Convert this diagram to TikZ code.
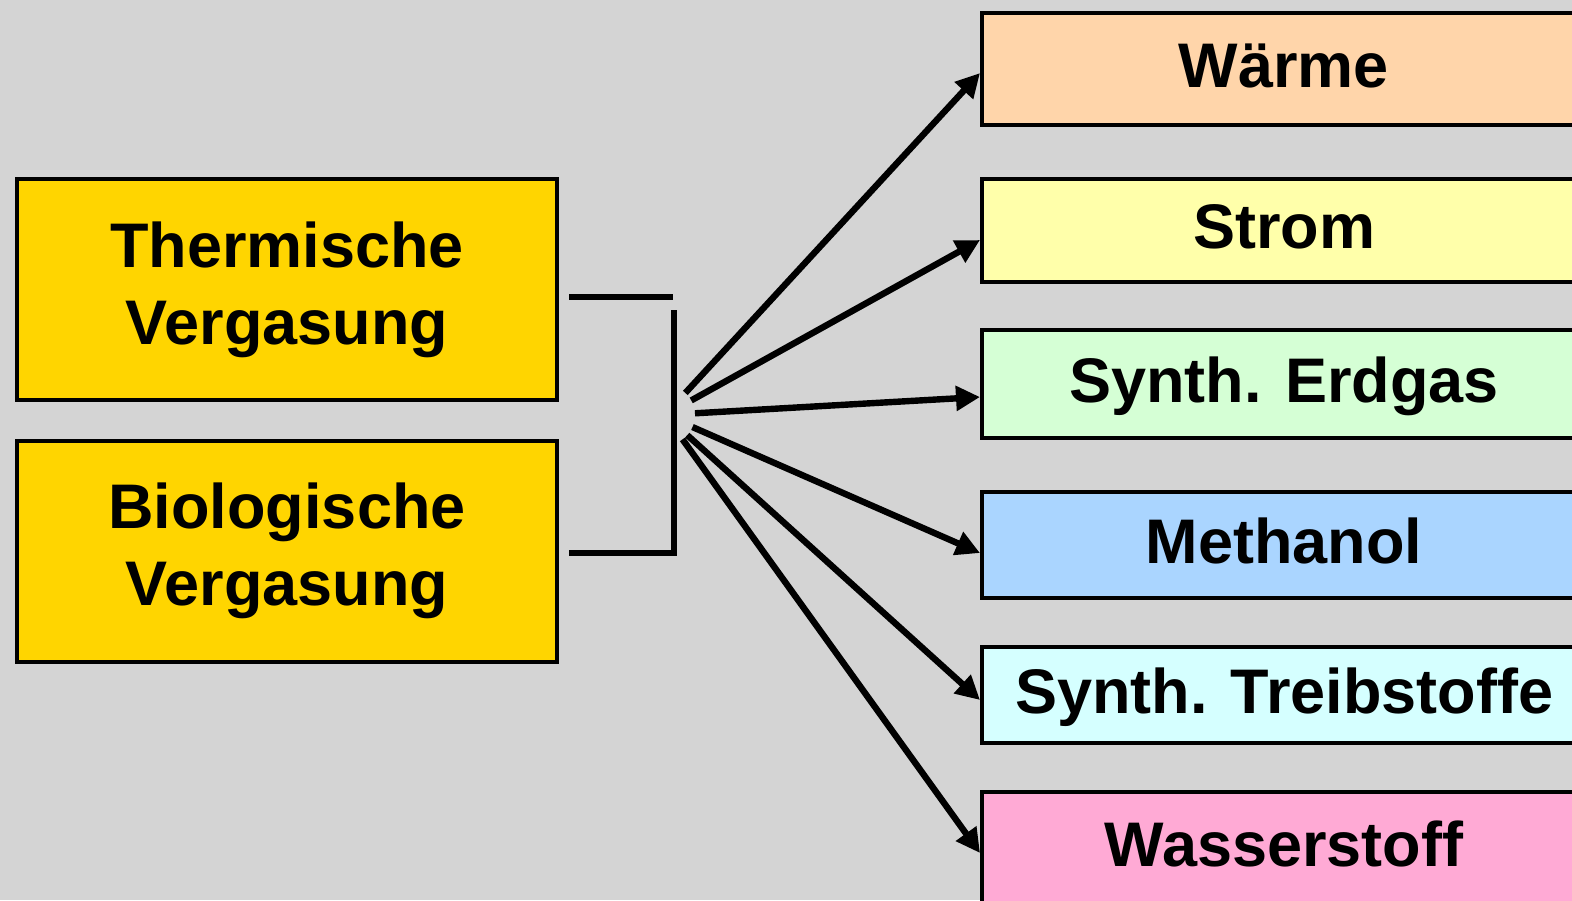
\documentclass[tikz,border=0pt]{standalone}
\usepackage{fontspec}
\setmainfont{Liberation Sans}
\usetikzlibrary{arrows.meta}
\definecolor{bgGrey}{HTML}{D4D4D4}
\definecolor{cGold}{HTML}{FFD500}
\definecolor{cWaerme}{HTML}{FFD5AA}
\definecolor{cStrom}{HTML}{FFFFAA}
\definecolor{cErdgas}{HTML}{D5FFD5}
\definecolor{cMethanol}{HTML}{AAD5FF}
\definecolor{cTreib}{HTML}{D5FFFF}
\definecolor{cWasser}{HTML}{FFAAD5}
\begin{document}
\begin{tikzpicture}[x=0.5pt,y=-0.5pt,
  srcbox/.style={draw,line width=2pt,fill=cGold,align=center,inner sep=0pt,
    minimum width=270pt,minimum height=110.5pt,
    font=\fontsize{31.5}{38.5}\selectfont\bfseries},
  outbox/.style={draw,line width=2pt,inner sep=0pt,minimum width=302pt,
    text height=23.6pt,text depth=5.5pt,
    font=\fontsize{31.5}{38.5}\selectfont\bfseries},
  brk/.style={line width=3.4pt},
  arr/.style={line width=3.2pt,-{Triangle[length=12pt,width=12pt]},shorten <=15pt}]
\useasboundingbox (0,0) rectangle (1572,900);
\fill[bgGrey] (0,0) rectangle (1572,900);
% sources
\node[srcbox] (therm) at (287,289.5) {Thermische\\Vergasung};
\node[srcbox] (bio) at (287,551) {Biologische\\Vergasung};
% products
\node[outbox,fill=cWaerme,minimum height=56pt] (waerme) at (1284,69) {Wärme};
\node[outbox,fill=cStrom,minimum height=51.5pt] (strom) at (1284,230.5) {Strom};
\node[outbox,fill=cErdgas,minimum height=54pt] (erdgas) at (1284,384) {Synth. Erdgas};
\node[outbox,fill=cMethanol,minimum height=53pt] (methanol) at (1284,545) {Methanol};
\node[outbox,fill=cTreib,minimum height=48pt] (treib) at (1284,695) {Synth. Treibstoffe};
\node[outbox,fill=cWasser,minimum height=56pt] (wasser) at (1284,848) {Wasserstoff};
% bracket
\coordinate (brkTop) at (673,297);
\coordinate (brkUp) at (674,310);
\coordinate (brkDown) at (674,553);
\coordinate (hub) at (665,415);
\draw[brk] ([xshift=5pt,yshift=-3.75pt]therm.east) -- (brkTop);
\draw[brk] (brkUp) -- (brkDown) -- ([xshift=5pt,yshift=-1pt]bio.east);
% arrows
\draw[arr] (hub) -- ([yshift=-2pt]waerme.west);
\draw[arr] (hub) -- ([yshift=-4.75pt]strom.west);
\draw[arr] (hub) -- ([yshift=-6.5pt]erdgas.west);
\draw[arr] (hub) -- ([yshift=-4pt]methanol.west);
\draw[arr] (hub) -- ([yshift=-2.5pt]treib.west);
\draw[arr] (hub) -- ([yshift=-2.5pt]wasser.west);
\end{tikzpicture}
\end{document}
